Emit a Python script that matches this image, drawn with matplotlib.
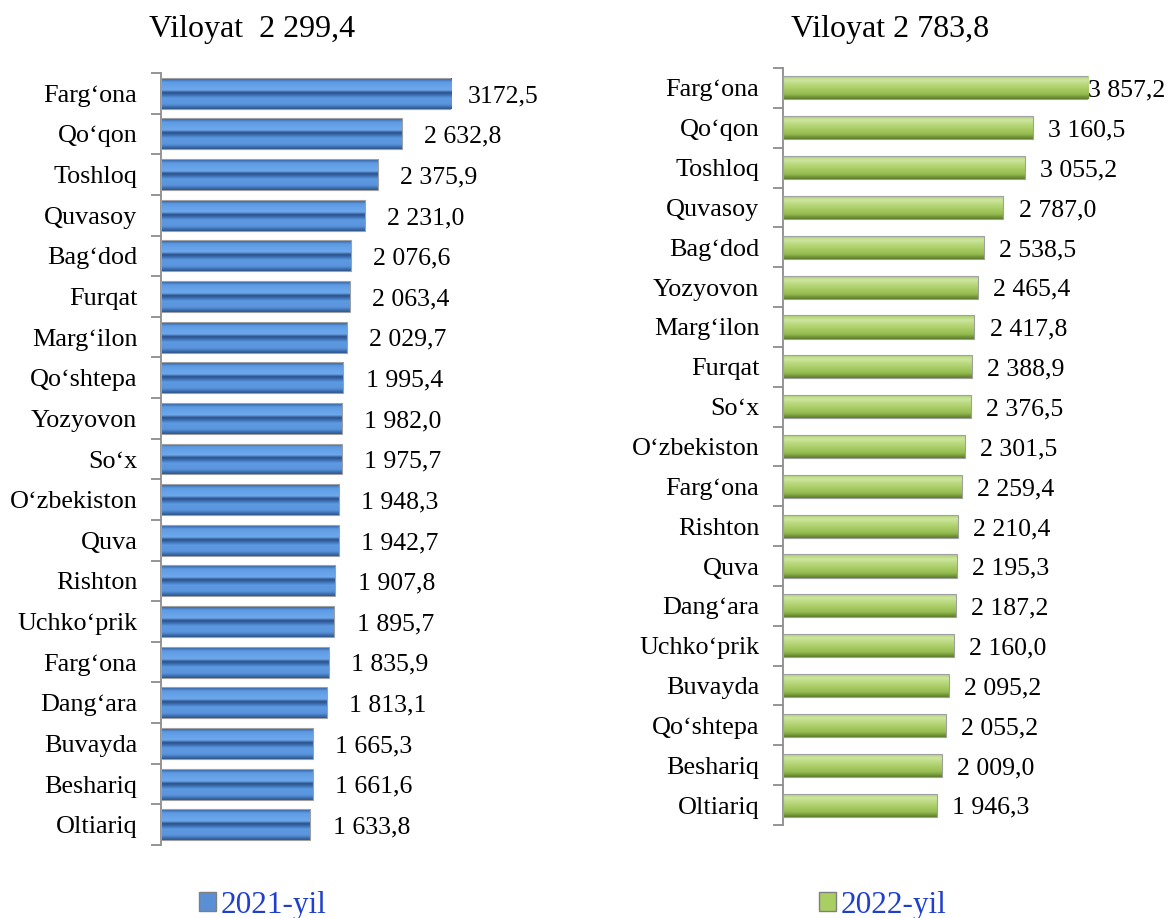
import numpy as np
import matplotlib
matplotlib.use('Agg')
import matplotlib.pyplot as plt
from matplotlib.colors import LinearSegmentedColormap
from matplotlib.patches import Patch

plt.rcParams['font.family'] = ['Liberation Serif', 'DejaVu Serif']

# 2021 data
regions_2021 = ['Farg‘ona', 'Qo‘qon', 'Toshloq', 'Quvasoy', 'Bag‘dod', 'Furqat',
                'Marg‘ilon', 'Qo‘shtepa', 'Yozyovon', 'So‘x', 'O‘zbekiston', 'Quva',
                'Rishton', 'Uchko‘prik', 'Farg‘ona', 'Dang‘ara', 'Buvayda',
                'Beshariq', 'Oltiariq']
values_2021 = [3172.5, 2632.8, 2375.9, 2231.0, 2076.6, 2063.4, 2029.7, 1995.4,
               1982.0, 1975.7, 1948.3, 1942.7, 1907.8, 1895.7, 1835.9, 1813.1,
               1665.3, 1661.6, 1633.8]
labels_2021 = ['3172,5', '2 632,8', '2 375,9', '2 231,0', '2 076,6', '2 063,4',
               '2 029,7', '1 995,4', '1 982,0', '1 975,7', '1 948,3', '1 942,7',
               '1 907,8', '1 895,7', '1 835,9', '1 813,1', '1 665,3', '1 661,6',
               '1 633,8']

# 2022 data
regions_2022 = ['Farg‘ona', 'Qo‘qon', 'Toshloq', 'Quvasoy', 'Bag‘dod', 'Yozyovon',
                'Marg‘ilon', 'Furqat', 'So‘x', 'O‘zbekiston', 'Farg‘ona', 'Rishton',
                'Quva', 'Dang‘ara', 'Uchko‘prik', 'Buvayda', 'Qo‘shtepa',
                'Beshariq', 'Oltiariq']
values_2022 = [3857.2, 3160.5, 3055.2, 2787.0, 2538.5, 2465.4, 2417.8, 2388.9,
               2376.5, 2301.5, 2259.4, 2210.4, 2195.3, 2187.2, 2160.0, 2095.2,
               2055.2, 2009.0, 1946.3]
labels_2022 = ['3 857,2', '3 160,5', '3 055,2', '2 787,0', '2 538,5', '2 465,4',
               '2 417,8', '2 388,9', '2 376,5', '2 301,5', '2 259,4', '2 210,4',
               '2 195,3', '2 187,2', '2 160,0', '2 095,2', '2 055,2', '2 009,0',
               '1 946,3']

title_2021 = 'Viloyat  2 299,4'
title_2022 = 'Viloyat 2 783,8'

blue_cmap = LinearSegmentedColormap.from_list('b', [
    (0.0, '#2d5c9c'), (0.12, '#5f9be3'), (0.38, '#6ea9ee'), (0.47, '#2a4f86'),
    (0.55, '#3c6fb4'), (0.65, '#5d9ae2'), (0.85, '#5a94dc'), (1.0, '#2a5690')])
green_cmap = LinearSegmentedColormap.from_list('g', [
    (0.0, '#a9cd66'), (0.2, '#cde6a0'), (0.45, '#b4d574'), (0.8, '#94bb4f'),
    (1.0, '#5d7d2a')])


def gradient_bars(ax, bars, cmap):
    grad = np.linspace(0, 1, 64).reshape(-1, 1)
    for b in bars:
        x, y = b.get_x(), b.get_y()
        w, h = b.get_width(), b.get_height()
        im = ax.imshow(grad, cmap=cmap, aspect='auto', origin='upper',
                       extent=(x, x + w, y + h, y), zorder=2)
        im.set_clip_path(b)
        b.set_facecolor('none')


def draw_panel(ax, regions, values, labels, cmap, height, xmax, offset):
    y = np.arange(len(regions))
    bars = ax.barh(y, values, height=height, color='none',
                   edgecolor='#a0a0a0', linewidth=0.8, zorder=3)
    gradient_bars(ax, bars, cmap)
    ax.set_xlim(0, xmax)
    ax.set_ylim(len(regions) - 0.5, -0.5)
    ax.set_yticks(y)
    ax.set_yticklabels(regions, fontsize=18.8)
    ax.set_yticks(np.arange(-0.5, len(regions)), minor=True)
    ax.tick_params(axis='y', which='major', length=0, pad=17)
    ax.tick_params(axis='y', which='minor', length=7, width=1.3, color='#8c8c8c')
    ax.set_xticks([])
    for s in ['top', 'right', 'bottom']:
        ax.spines[s].set_visible(False)
    ax.spines['left'].set_color('#8c8c8c')
    ax.spines['left'].set_linewidth(1.3)
    for i, (v, lab) in enumerate(zip(values, labels)):
        off = offset[i] if isinstance(offset, list) else offset
        ax.annotate(lab, (v, i), xytext=(off, -2), textcoords='offset points',
                    va='center', ha='left', fontsize=18.5, annotation_clip=False)


fig = plt.figure(figsize=(11.71, 9.18), dpi=100)

ax1 = fig.add_axes([0.1375, 0.0795, 0.2477, 0.841])
off1 = [12] + [16] * (len(values_2021) - 1)
draw_panel(ax1, regions_2021, values_2021, labels_2021, blue_cmap, 0.76, 3172.5, off1)

off2 = [0] + [11] * (len(values_2022) - 1)
ax2 = fig.add_axes([0.6687, 0.1013, 0.2605, 0.8246])
draw_panel(ax2, regions_2022, values_2022, labels_2022, green_cmap, 0.58, 3857.2, off2)

fig.text(252 / 1171, 1 - 30 / 918, title_2021, fontsize=23, ha='center', va='center')
fig.text(890 / 1171, 1 - 30 / 918, title_2022, fontsize=23, ha='center', va='center')

fig.legend(handles=[Patch(facecolor='#5a8fd6', edgecolor='#7f7f7f', label='2021-yil')],
           loc='center', bbox_to_anchor=(263 / 1171, 1 - 905 / 918), frameon=False,
           labelcolor='#1f3fcf', fontsize=22.5, handlelength=0.55, handleheight=0.55,
           handletextpad=0.15)
fig.legend(handles=[Patch(facecolor='#a9cf62', edgecolor='#7f7f7f', label='2022-yil')],
           loc='center', bbox_to_anchor=(883 / 1171, 1 - 905 / 918), frameon=False,
           labelcolor='#1f3fcf', fontsize=22.5, handlelength=0.55, handleheight=0.55,
           handletextpad=0.15)

fig.savefig('out.png', dpi=100)
